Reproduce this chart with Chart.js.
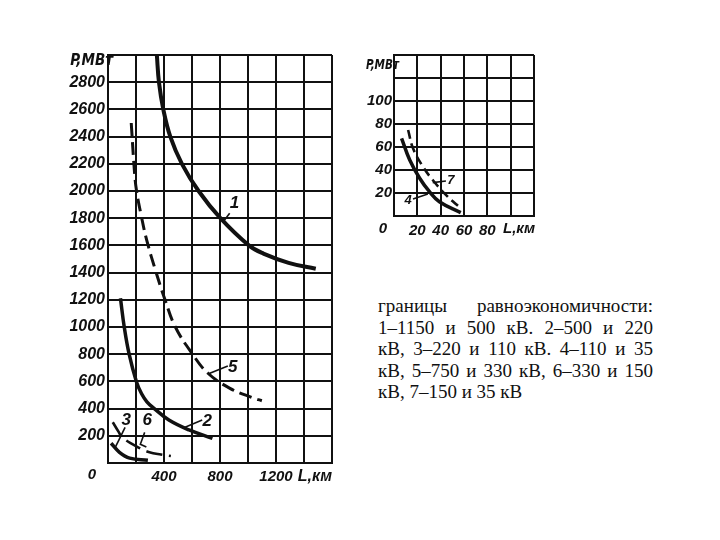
<!DOCTYPE html>
<html>
<head>
<meta charset="utf-8">
<script src="https://cdn.jsdelivr.net/npm/chart.js@4.4.0/dist/chart.umd.min.js"></script>
<style>
  body { margin: 0; width: 720px; height: 540px; background: #fff; position: relative; overflow: hidden; }
  #bigChart { position: absolute; left: 0; top: 0; }
  #smallChart { position: absolute; left: 340px; top: 0; }
  .note { position: absolute; left: 378px; top: 295px; width: 275px; color: #111;
          font: 19px/21.5px "Liberation Serif", "Times New Roman", serif; }
  .note div { text-align: justify; text-align-last: justify; }
  .note div.last { text-align: left; text-align-last: left; }
</style>
</head>
<body>
<canvas id="bigChart" width="360" height="540"></canvas>
<canvas id="smallChart" width="200" height="260"></canvas>
<div class="note">
  <div>границы равноэкономичности:</div>
  <div>1–1150 и 500 кВ. 2–500 и 220</div>
  <div>кВ, 3–220 и 110 кВ. 4–110 и 35</div>
  <div>кВ, 5–750 и 330 кВ, 6–330 и 150</div>
  <div class="last">кВ, 7–150 и 35 кВ</div>
</div>
<script>
const ink = '#111'

// left chart: L, km / P, MW
const bigXLabels = [400, 800, 1200]
const bigYLabels = [200, 400, 600, 800, 1000, 1200, 1400, 1600, 1800, 2000, 2200, 2400, 2600, 2800]

const curve1L = [349, 364, 395, 445, 528, 647, 803, 1006, 1110, 1290, 1484]
const curve1P = [3000, 2800, 2600, 2400, 2200, 2000, 1800, 1600, 1540, 1472, 1428]
const curve2L = [89, 116, 151, 203, 240, 278, 326, 435, 579, 746]
const curve2P = [1211, 1000, 800, 598, 509, 450, 404, 316, 243, 181]
const curve3L = [22, 82, 155, 285]
const curve3P = [145, 79, 36, 20]
const curve5L = [166, 190, 204, 239, 276, 342, 406, 481, 604, 714, 871, 1032, 1099]
const curve5P = [2500, 2130, 2000, 1811, 1640, 1407, 1204, 1000, 800, 660, 549, 480, 458]
const curve6L = [34, 70, 106, 231, 296, 377, 449]
const curve6P = [300, 239, 185, 107, 79, 62, 51]

const bigNumbers = ['1', '5', '2', '3', '6']
const bigNumberL = [904, 891, 709, 130, 280]
const bigNumberP = [1906, 700, 305, 312, 312]
const leader1 = [[869, 823], [1836, 1774]]
const leader5 = [[856, 714], [713, 654]]
const leader2 = [[673, 542], [316, 260]]
const leader3 = [[122, 52], [262, 115]]
const leader6 = [[262, 231, 274], [225, 138, 118]]

// right chart
const smallXLabels = [20, 40, 60, 80]
const smallYLabels = [20, 40, 60, 80, 100]

const curve4L = [6.5, 13.5, 22, 30.4, 38.9, 57.2]
const curve4P = [67.6, 48.7, 32.8, 21.1, 12.4, 2.9]
const curve7L = [12.1, 16.3, 24.8, 33.2, 44.5, 57.2]
const curve7P = [74.8, 58.9, 42.9, 31.3, 18.3, 6.7]

const smallNumbers = ['7', '4']
const smallNumberL = [48.8, 12.1]
const smallNumberP = [30.7, 13.9]
const leader7 = [[44.5, 33.2], [30.4, 29]]
const leader4 = [[16.3, 29], [14.8, 19.1]]


const curve = (L, P, width, dash) => ({
    data: L.map((v, i) => ({ x: v, y: P[i] })),
    borderColor: ink,
    borderWidth: width,
    borderDash: dash || [],
    borderCapStyle: 'butt',
    tension: 0.4,
    pointRadius: 0,
    fill: false
})

const leader = ([L, P]) => ({
    data: L.map((v, i) => ({ x: v, y: P[i] })),
    borderColor: ink,
    borderWidth: 1.6,
    tension: 0,
    pointRadius: 0,
    fill: false
})

const axis = (max, step, shown, size, pad, fit) => ({
    type: 'linear',
    min: 0,
    max,
    afterFit: fit,
    ticks: {
        stepSize: step,
        autoSkip: false,
        maxRotation: 0,
        padding: pad,
        color: ink,
        font: { family: 'Liberation Sans', size, style: 'italic', weight: 'bold' },
        callback: v => shown.includes(v) ? String(v) : ''
    },
    grid: { color: ink, lineWidth: 2, drawTicks: false },
    border: { color: ink, width: 2 }
})

const notes = {
    id: 'notes',
    afterDatasetsDraw(chart, args, o) {
        const { ctx, chartArea: a, scales: { x, y } } = chart
        ctx.save()
        ctx.fillStyle = ink
        ctx.textBaseline = 'middle'
        ctx.textAlign = 'right'
        ctx.font = `oblique bold ${o.nameSize}px "DejaVu Sans Condensed", "DejaVu Sans"`
        ctx.fillText('P,МВт', a.left + o.pDx, a.top + o.pDy, o.pWidth)
        ctx.font = `italic bold ${o.nameSize + 1}px "Liberation Sans"`
        ctx.fillText('L,км', a.right + o.lDx, a.bottom + o.lDy)
        ctx.textAlign = 'center'
        ctx.font = `italic bold ${o.zeroSize}px "Liberation Sans"`
        ctx.fillText('0', a.left + o.zDx, a.bottom + o.zDy)
        ctx.font = `italic bold ${o.numSize}px "Liberation Sans"`
        o.texts.forEach((t, i) => {
            ctx.fillText(t, x.getPixelForValue(o.atL[i]), y.getPixelForValue(o.atP[i]))
        })
        ctx.restore()
    }
}

const baseOptions = (scales, padding, noteOpts) => ({
    responsive: false,
    animation: false,
    layout: { padding },
    scales,
    plugins: {
        legend: { display: false },
        tooltip: { enabled: false },
        notes: noteOpts
    }
})

new Chart('bigChart', {
    type: 'line',
    data: {
        datasets: [
            curve(curve1L, curve1P, 4),
            curve(curve2L, curve2P, 3.5),
            curve(curve3L, curve3P, 3.5),
            curve(curve5L, curve5P, 3, [13, 6]),
            curve(curve6L, curve6P, 2.6, [16, 7]),
            leader(leader1), leader(leader5), leader(leader2), leader(leader3), leader(leader6)
        ]
    },
    options: baseOptions(
        {
            x: axis(1600, 200, bigXLabels, 15, 5, s => { s.height = 77 }),
            y: axis(3000, 200, bigYLabels, 16, 3, s => { s.width = 108 })
        },
        { top: 55, right: 28, left: 0, bottom: 0 },
        {
            nameSize: 15, pDx: 5, pDy: 6, pWidth: 46, lDx: 0, lDy: 14,
            zeroSize: 15, zDx: -16, zDy: 12,
            numSize: 17, texts: bigNumbers, atL: bigNumberL, atP: bigNumberP
        }
    ),
    plugins: [notes]
})

new Chart('smallChart', {
    type: 'line',
    data: {
        datasets: [
            curve(curve4L, curve4P, 3.5),
            curve(curve7L, curve7P, 2.6, [9, 5]),
            leader(leader7), leader(leader4)
        ]
    },
    options: baseOptions(
        {
            x: axis(120, 20, smallXLabels, 15, 6, s => { s.height = 44 }),
            y: axis(140, 20, smallYLabels, 15, 2, s => { s.width = 54 })
        },
        { top: 55, right: 4, left: 0, bottom: 0 },
        {
            nameSize: 14, pDx: 5, pDy: 10, pWidth: 33, lDx: 1, lDy: 13,
            zeroSize: 15, zDx: -11, zDy: 13,
            numSize: 13, texts: smallNumbers, atL: smallNumberL, atP: smallNumberP
        }
    ),
    plugins: [notes]
})
</script>
</body>
</html>
